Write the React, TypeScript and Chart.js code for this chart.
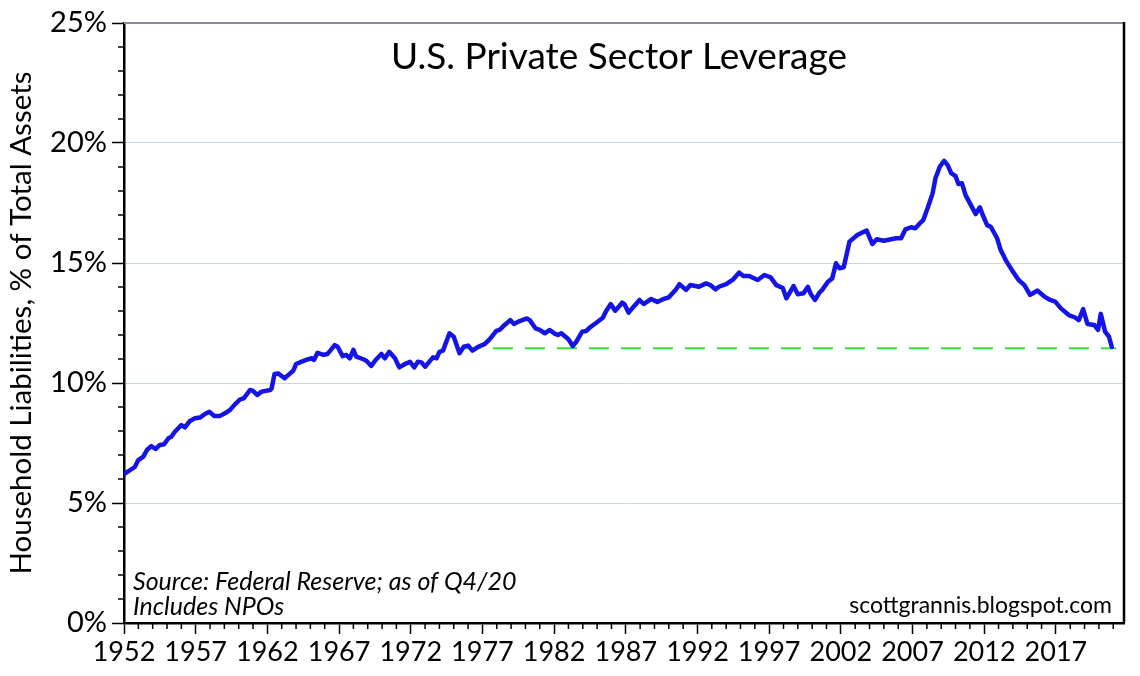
import React, { useEffect, useRef } from 'react';
import { Chart, registerables } from 'chart.js';

Chart.register(...registerables);

const FONT = 'Lato, "DejaVu Sans", sans-serif';

// Quarter-ish sample points (year, % of total assets)
const years = [
  1952.0, 1952.75, 1953.0, 1953.35, 1953.6, 1953.9, 1954.2, 1954.5, 1954.8, 1955.1,
  1955.3, 1955.55, 1956.0, 1956.25, 1956.6, 1956.95, 1957.3, 1957.65, 1957.95, 1958.3,
  1958.7, 1959.1, 1959.4, 1959.75, 1960.1, 1960.35, 1960.8, 1961.0, 1961.3, 1961.6,
  1962.2, 1962.3, 1962.5, 1962.75, 1963.2, 1963.45, 1963.8, 1964.0, 1964.4, 1964.7,
  1965.1, 1965.25, 1965.5, 1965.9, 1966.2, 1966.7, 1966.9, 1967.25, 1967.5, 1967.75,
  1968.0, 1968.2, 1968.7, 1968.9, 1969.25, 1969.55, 1969.95, 1970.2, 1970.5, 1970.9,
  1971.2, 1971.6, 1971.95, 1972.25, 1972.5, 1972.75, 1973.0, 1973.3, 1973.55, 1973.8,
  1974.0, 1974.25, 1974.7, 1975.0, 1975.4, 1975.7, 1976.0, 1976.3, 1976.7, 1977.15,
  1977.5, 1977.97, 1978.2, 1978.55, 1978.94, 1979.2, 1979.6, 1980.1, 1980.3, 1980.7,
  1981.0, 1981.35, 1981.7, 1982.0, 1982.27, 1982.5, 1983.0, 1983.3, 1983.55, 1983.96,
  1984.25, 1984.5, 1984.9, 1985.4, 1985.6, 1985.95, 1986.26, 1986.56, 1986.75, 1986.9,
  1987.2, 1987.5, 1987.96, 1988.24, 1988.77, 1989.2, 1989.6, 1990.0, 1990.5, 1990.74,
  1991.2, 1991.5, 1992.1, 1992.6, 1992.9, 1993.25, 1993.5, 1994.0, 1994.5, 1994.9,
  1995.2, 1995.6, 1996.2, 1996.67, 1997.1, 1997.5, 1997.95, 1998.2, 1998.7, 1999.0,
  1999.4, 1999.7, 1999.9, 2000.2, 2000.5, 2000.7, 2001.1, 2001.4, 2001.66, 2001.9,
  2002.2, 2002.6, 2003.15, 2003.6, 2003.8, 2004.2, 2004.5, 2005.0, 2005.5, 2005.85,
  2006.2, 2006.5, 2006.9, 2007.2, 2007.5, 2007.75, 2008.05, 2008.4, 2008.6, 2008.9,
  2009.2, 2009.45, 2009.7, 2010.0, 2010.2, 2010.45, 2010.7, 2011.1, 2011.4, 2011.7,
  2011.9, 2012.2, 2012.46, 2012.9, 2013.15, 2013.5, 2014.0, 2014.4, 2014.8, 2015.2,
  2015.4, 2015.7, 2016.2, 2016.6, 2016.95, 2017.35, 2017.9, 2018.3, 2018.6, 2018.9,
  2019.2, 2019.67, 2019.94, 2020.13, 2020.43, 2020.7, 2020.9,
];

const leverage = [
  6.2, 6.5, 6.79, 6.93, 7.21, 7.37, 7.25, 7.42, 7.45, 7.7,
  7.76, 7.97, 8.25, 8.15, 8.42, 8.53, 8.56, 8.71, 8.8, 8.63,
  8.63, 8.76, 8.88, 9.12, 9.32, 9.36, 9.71, 9.67, 9.5, 9.64,
  9.71, 9.78, 10.38, 10.4, 10.2, 10.33, 10.51, 10.79, 10.89, 10.96,
  11.03, 10.96, 11.26, 11.17, 11.21, 11.58, 11.51, 11.12, 11.17, 11.03,
  11.38, 11.1, 10.99, 10.93, 10.71, 10.96, 11.21, 11.03, 11.3, 11.03,
  10.65, 10.79, 10.88, 10.65, 10.89, 10.86, 10.68, 10.89, 11.07, 11.03,
  11.3, 11.35, 12.07, 11.93, 11.24, 11.51, 11.56, 11.35, 11.51, 11.62,
  11.82, 12.17, 12.21, 12.42, 12.62, 12.46, 12.58, 12.69, 12.62, 12.28,
  12.21, 12.07, 12.21, 12.07, 12.0, 12.07, 11.82, 11.54, 11.72, 12.14,
  12.17, 12.32, 12.49, 12.72, 12.97, 13.29, 13.01, 13.21, 13.35, 13.29,
  12.93, 13.15, 13.46, 13.29, 13.5, 13.38, 13.49, 13.57, 13.9, 14.12,
  13.88, 14.08, 14.01, 14.15, 14.08, 13.9, 14.01, 14.12, 14.32, 14.6,
  14.46, 14.46, 14.29, 14.5, 14.4, 14.08, 13.96, 13.53, 14.04, 13.7,
  13.74, 14.01, 13.71, 13.46, 13.76, 13.88, 14.22, 14.36, 14.99, 14.78,
  14.82, 15.89, 16.17, 16.3, 16.35, 15.79, 15.99, 15.93, 15.99, 16.03,
  16.03, 16.4, 16.49, 16.45, 16.65, 16.79, 17.28, 17.9, 18.53, 19.01,
  19.26, 19.08, 18.74, 18.62, 18.29, 18.32, 17.83, 17.38, 17.04, 17.32,
  17.0, 16.58, 16.51, 16.03, 15.54, 15.12, 14.64, 14.29, 14.08, 13.67,
  13.74, 13.85, 13.6, 13.46, 13.39, 13.11, 12.83, 12.74, 12.62, 13.08,
  12.46, 12.42, 12.21, 12.88, 12.14, 11.93, 11.5,
];

// Green dashed reference line at the latest level
const refYears = [1975.5, 2021.2];
const refLevel = [11.45, 11.45];

const xTickYears = [1952, 1957, 1962, 1967, 1972, 1977, 1982, 1987, 1992, 1997, 2002, 2007, 2012, 2017];
const yTickValues = [0, 5, 10, 15, 20, 25];
const X_MIN = 1952;
const X_MAX = 2021.75;

const TITLE = 'U.S. Private Sector Leverage';
const Y_TITLE = 'Household Liabilities, % of Total Assets';
const SOURCE_LINES = ['Source: Federal Reserve; as of Q4/20', 'Includes NPOs'];
const CREDIT = 'scottgrannis.blogspot.com';

const decorPlugin = {
  id: 'decor',
  afterDraw(chart: any) {
    const { ctx, chartArea: a, scales } = chart;
    const xs = scales.x;
    const ys = scales.y;
    ctx.save();
    // minor ticks
    ctx.strokeStyle = '#000';
    ctx.lineWidth = 1.5;
    ctx.beginPath();
    for (let yr = Math.ceil(X_MIN); yr <= Math.floor(X_MAX); yr++) {
      if (xTickYears.includes(yr)) continue;
      const px = xs.getPixelForValue(yr);
      ctx.moveTo(px, a.bottom);
      ctx.lineTo(px, a.bottom + 6);
    }
    for (let v = 0; v <= 25; v++) {
      if (yTickValues.includes(v)) continue;
      const py = ys.getPixelForValue(v);
      ctx.moveTo(a.left, py);
      ctx.lineTo(a.left - 6, py);
    }
    ctx.stroke();
    // top border (grey) and right border (black)
    ctx.strokeStyle = '#8a8aa0';
    ctx.lineWidth = 2;
    ctx.beginPath();
    ctx.moveTo(a.left, a.top);
    ctx.lineTo(a.right, a.top);
    ctx.stroke();
    ctx.strokeStyle = '#000';
    ctx.lineWidth = 2.5;
    ctx.beginPath();
    ctx.moveTo(a.right, a.top - 1);
    ctx.lineTo(a.right, a.bottom);
    ctx.stroke();
    // title
    ctx.fillStyle = '#000';
    ctx.font = `37px ${FONT}`;
    ctx.textAlign = 'center';
    ctx.textBaseline = 'alphabetic';
    ctx.fillText(TITLE, (a.left + a.right) / 2 - 5, a.top + 46);
    // source notes
    ctx.font = `italic 25px ${FONT}`;
    ctx.textAlign = 'left';
    ctx.fillText(SOURCE_LINES[0], a.left + 9, a.bottom - 33);
    ctx.fillText(SOURCE_LINES[1], a.left + 9, a.bottom - 8);
    // credit
    ctx.font = `23px ${FONT}`;
    ctx.textAlign = 'right';
    ctx.fillText(CREDIT, a.right - 12, a.bottom - 10);
    ctx.restore();
  },
};

export default function App() {
  const canvasRef = useRef<HTMLCanvasElement | null>(null);

  useEffect(() => {
    document.body.style.margin = '0';
    const canvas = canvasRef.current;
    if (!canvas) return;

    const linePoints = years.map((yr, i) => ({ x: yr, y: leverage[i] }));
    const refPoints = refYears.map((yr, i) => ({ x: yr, y: refLevel[i] }));

    const chart = new Chart(canvas, {
      type: 'line',
      data: {
        datasets: [
          {
            label: 'Household liabilities',
            data: linePoints,
            borderColor: '#1414e6',
            borderWidth: 4.5,
            pointRadius: 0,
            tension: 0,
            borderJoinStyle: 'round',
            borderCapStyle: 'round',
            fill: false,
          },
          {
            label: 'Current level',
            data: refPoints,
            borderColor: '#2ee62e',
            borderWidth: 2,
            borderDash: [20, 12],
            pointRadius: 0,
            tension: 0,
            fill: false,
          },
        ],
      },
      options: {
        animation: false,
        responsive: true,
        maintainAspectRatio: false,
        layout: { padding: { top: 23, right: 16, left: 0, bottom: 0 } },
        plugins: {
          legend: { display: false },
          tooltip: { enabled: false },
          title: { display: false },
        },
        scales: {
          x: {
            type: 'linear',
            min: X_MIN,
            max: X_MAX,
            afterBuildTicks: (scale: any) => {
              scale.ticks = xTickYears.map((v) => ({ value: v }));
            },
            afterFit: (scale: any) => {
              scale.height = 53;
            },
            ticks: {
              autoSkip: false,
              maxRotation: 0,
              minRotation: 0,
              padding: 2,
              color: '#000',
              font: { family: FONT, size: 27 },
              callback: (v: any) => String(v),
            },
            grid: {
              drawOnChartArea: false,
              drawTicks: true,
              tickLength: 11,
              tickColor: '#000',
              tickWidth: 1.5,
            },
            border: { display: true, color: '#000', width: 2.5 },
          },
          y: {
            type: 'linear',
            min: 0,
            max: 25,
            afterBuildTicks: (scale: any) => {
              scale.ticks = yTickValues.map((v) => ({ value: v }));
            },
            afterFit: (scale: any) => {
              scale.width = 124;
            },
            ticks: {
              padding: 5,
              color: '#000',
              font: { family: FONT, size: 29 },
              callback: (v: any) => `${v}%`,
            },
            grid: {
              drawOnChartArea: true,
              color: '#c8d6ee',
              lineWidth: 1,
              drawTicks: true,
              tickLength: 12,
              tickColor: '#000',
              tickWidth: 1.5,
            },
            border: { display: true, color: '#000', width: 2.5 },
            title: {
              display: true,
              text: Y_TITLE,
              color: '#000',
              font: { family: FONT, size: 29.5 },
              padding: { top: 4, bottom: 0 },
            },
          },
        },
      },
      plugins: [decorPlugin],
    });

    return () => {
      chart.destroy();
    };
  }, []);

  return (
    <div style={{ position: 'relative', width: 1140, height: 676, background: '#fff' }}>
      <canvas ref={canvasRef} />
    </div>
  );
}
